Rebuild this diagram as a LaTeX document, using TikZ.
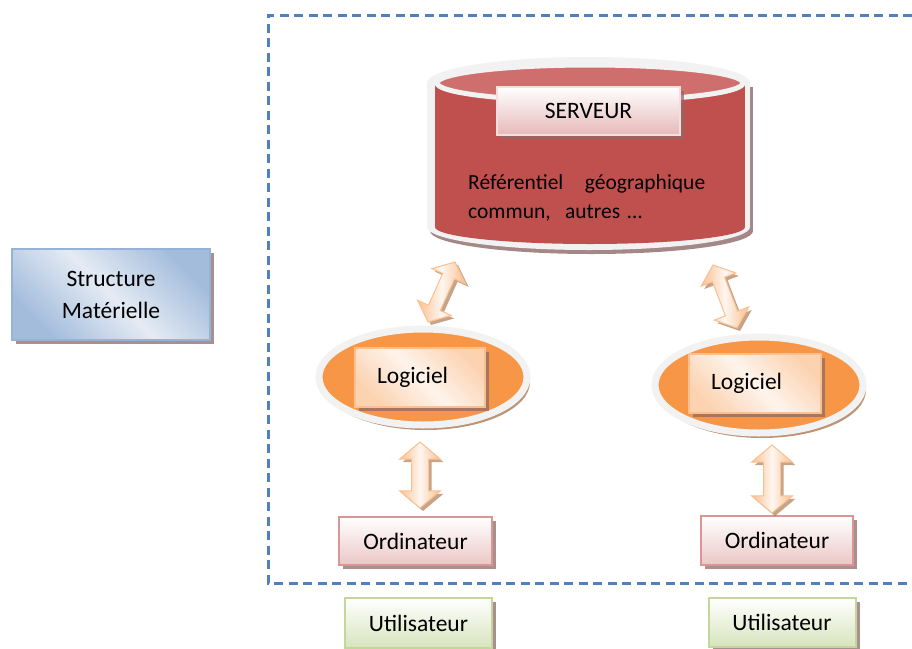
\documentclass[tikz,border=0pt]{standalone}
\usepackage{fontspec}
\setmainfont{Carlito}
\usepackage{tikz}
\usetikzlibrary{positioning, shapes.geometric, shapes.arrows, shadows, calc}

\definecolor{dashblue}{HTML}{4F81BD}
\definecolor{bluedark}{HTML}{A3BCDC}
\definecolor{bluelight}{HTML}{E4EBF4}
\definecolor{blueedge}{HTML}{95B3D7}
\definecolor{srvred}{HTML}{C0504D}
\definecolor{srvtop}{HTML}{CF6F6D}
\definecolor{rim}{HTML}{F2F2F2}
\definecolor{pinkfill}{HTML}{E6B9B8}
\definecolor{pinkedge}{HTML}{D99694}
\definecolor{greenfill}{HTML}{D7E4BD}
\definecolor{greenedge}{HTML}{C3D69B}
\definecolor{orangefill}{HTML}{F79646}
\definecolor{orangelight}{HTML}{FAC090}
\definecolor{orangepale}{HTML}{FDE9D9}
\definecolor{hatchred}{HTML}{8E6A6A}
\definecolor{hatchbrown}{HTML}{A0673A}

\tikzset{
txt/.style={font=\fontsize{23.5}{29}\selectfont}, % Calibri-like text everywhere
hatched/.style={drop shadow={shadow xshift=4pt, shadow yshift=-4pt, fill=hatchred, opacity=.75}}, % the grey hatched shadow
box/.style={txt, rectangle, draw, line width=2pt, inner sep=0pt, hatched}, % plain label boxes
frame/.style={dashblue, line width=3pt, dash pattern=on 9pt off 5.5pt}, % the dashed frame
disc/.style={ellipse, draw=rim, line width=7pt, fill=orangefill, minimum width=208pt, minimum height=96pt,
  drop shadow={shadow xshift=3pt, shadow yshift=-5pt, fill=hatchbrown, opacity=.7}}, % orange discs
bigarrow/.style={double arrow, draw=orangelight, line width=1pt, left color=orangelight, right color=orangelight,
  middle color=orangepale!40, inner xsep=0pt, double arrow head extend=12pt, double arrow tip angle=100,
  drop shadow={shadow xshift=3pt, shadow yshift=-3pt, fill=hatchbrown, opacity=.6}}, % block double arrows
}

\begin{document}
\begin{tikzpicture}[x=1pt, y=-1pt]
\useasboundingbox (0,0) rectangle (912,648);

% dashed frame, open on the right
\draw[frame] (912,15) -- (268,15) -- (268,583) -- (912,583);

\node[box, draw=blueedge, left color=bluedark, right color=bluedark, middle color=bluelight, shading angle=-45,
  minimum width=198pt, minimum height=91pt, align=center, font=\fontsize{23.5}{32}\selectfont]
  (structure) at (111,294.5) {Structure\\Matérielle};

% server drum
\begin{scope}[shift={(3,4)}]
  \fill[hatchred!80] (427,83) rectangle (750,227);
  \fill[hatchred!80] (588.5,227) ellipse [x radius=161.5, y radius=23];
\end{scope}
\fill[rim] (427,83) rectangle (750,227);
\fill[rim] (588.5,83) ellipse [x radius=161.5, y radius=26];
\fill[rim] (588.5,227) ellipse [x radius=161.5, y radius=23];
\fill[srvred] (435,83) rectangle (745,227);
\fill[srvred] (590,227) ellipse [x radius=155, y radius=17];
\draw[rim, line width=5pt, fill=srvtop] (590,83) ellipse [x radius=153, y radius=18];
\coordinate (srv) at (590,160);

\node[box, draw=pinkfill!45, top color=white, bottom color=pinkfill, minimum width=183pt, minimum height=48pt]
  (serveur) at (588.5,111) {SERVEUR};
\node[font=\fontsize{21.5}{29}\selectfont, anchor=north west, inner sep=0pt, text width=237pt, align=left]
  (referentiel) at (468,174) {Référentiel\hfill géographique\\commun,~ autres …};

% software discs
\node[disc] (ell1) at (423,377) {};
\node[disc] (ell2) at (759,385) {};
\node[box, draw=orangelight, left color=orangelight!70, right color=orangelight!70, middle color=orangepale!50,
  shading angle=-45, minimum width=130pt, minimum height=59pt, text width=86pt, inner xsep=22pt, align=left]
  (logiciel1) at (420,377.5) {Logiciel};
\node[box, draw=orangelight, left color=orangelight!70, right color=orangelight!70, middle color=orangepale!50,
  shading angle=-45, minimum width=132pt, minimum height=59pt, text width=88pt, inner xsep=22pt, align=left]
  (logiciel2) at (755,383.5) {Logiciel};

% computers and users
\node[box, draw=pinkedge, top color=white, bottom color=pinkfill!80, minimum width=153pt, minimum height=48pt]
  (ordi1) at (415.5,541) {Ordinateur};
\node[box, draw=pinkedge, top color=white, bottom color=pinkfill!80, minimum width=152pt, minimum height=49pt]
  (ordi2) at (777,540.5) {Ordinateur};
\node[box, draw=greenedge, top color=white, bottom color=greenfill, minimum width=147pt, minimum height=50pt,
  below=31pt of ordi1, xshift=3pt] (user1) {Utilisateur};
\node[box, draw=greenedge, top color=white, bottom color=greenfill, minimum width=147pt, minimum height=49pt,
  below=31pt of ordi2, xshift=5pt] (user2) {Utilisateur};

% ends of the block arrows
\coordinate (a1s) at (455,262);
\coordinate (a1e) at (428,322);
\coordinate (a2s) at (713,265);
\coordinate (a2e) at (737,328);
\coordinate (a3s) at (420,442);
\coordinate (a3e) at (420,508);
\coordinate (a4s) at (772,445);
\coordinate (a4e) at (772,513);

\foreach \aa/\bb/\ww/\nm in {a1s/a1e/6/arr1, a2s/a2e/6/arr2, a3s/a3e/8/arr3, a4s/a4e/8/arr4}
  \path let \p1=($(\bb)-(\aa)$) in
    node[bigarrow, inner ysep=\ww pt, rotate={atan2(\y1,\x1)}, minimum height={veclen(\x1,\y1)}]
    (\nm) at ($(\aa)!.5!(\bb)$) {};

\end{tikzpicture}
\end{document}
